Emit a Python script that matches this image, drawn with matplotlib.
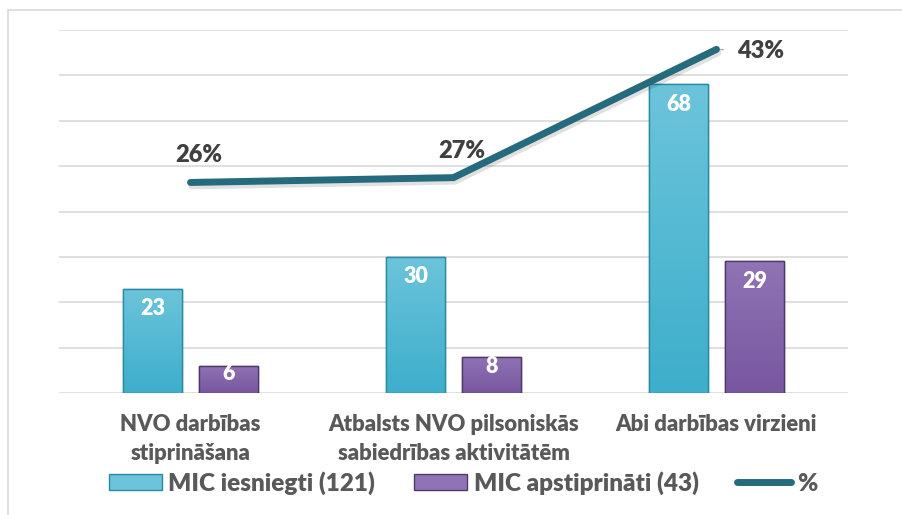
import matplotlib.pyplot as plt
import matplotlib.patheffects as pe
import numpy as np
from matplotlib.colors import LinearSegmentedColormap
from matplotlib.lines import Line2D
from matplotlib.patches import Patch, Rectangle

CATEGORIES = [
    ["NVO darbības", "stiprināšana"],
    ["Atbalsts NVO pilsoniskās", "sabiedrības aktivitātēm"],
    ["Abi darbības virzieni"],
]
SUBMITTED = [23, 30, 68]
APPROVED = [6, 8, 29]
PCT = [0.261, 0.267, 0.426]
PCT_LABELS = ["26%", "27%", "43%"]
LEGEND_LABELS = ["MIC iesniegti (121)", "MIC apstiprināti (43)", "%"]

CYAN_TOP, CYAN_BOT, CYAN_EDGE = "#6CC4DB", "#3DAECB", "#2A8AA3"
PURP_TOP, PURP_BOT, PURP_EDGE = "#9073B5", "#7857A0", "#4E3A6A"
LINE_COLOR = "#266B7D"
GRID_COLOR = "#D9D9D9"
LABEL_COLOR = "#595959"
PCT_COLOR = "#404040"
FONT = "Lato"
WEIGHT = "heavy"

plt.rcParams["font.family"] = FONT


def gradient_bars(ax, bars, top, bottom):
    cmap = LinearSegmentedColormap.from_list("g", [bottom, top])
    grad = np.linspace(0, 1, 256).reshape(-1, 1)
    for bar in bars:
        x, y = bar.get_x(), bar.get_y()
        w, h = bar.get_width(), bar.get_height()
        im = ax.imshow(grad, cmap=cmap, origin="lower", aspect="auto",
                       extent=(x, x + w, y, y + h), zorder=2.1)
        im.set_clip_path(bar)
        ax.add_patch(Rectangle((x, y), w, h, fill=False, edgecolor=bar.get_edgecolor(),
                               linewidth=1.0, zorder=2.2))


fig = plt.figure(figsize=(9.02, 5.15), dpi=100)
fig.patches.append(Rectangle((8 / 902, -0.1), 1.2, 0.1 + 1 - 10 / 515,
                             transform=fig.transFigure, fill=False,
                             edgecolor=GRID_COLOR, linewidth=1.2))

ax = fig.add_axes([59 / 902, 1 - 393 / 515, (848 - 59) / 902, 363 / 515])
x = np.arange(len(SUBMITTED))
width = 0.228
offset = 0.1445

b1 = ax.bar(x - offset, SUBMITTED, width, color=CYAN_BOT, edgecolor=CYAN_EDGE,
            linewidth=1.0, zorder=2)
b2 = ax.bar(x + offset, APPROVED, width, color=PURP_BOT, edgecolor=PURP_EDGE,
            linewidth=1.0, zorder=2)
gradient_bars(ax, b1, CYAN_TOP, CYAN_BOT)
gradient_bars(ax, b2, PURP_TOP, PURP_BOT)

for bars, vals in ((b1, SUBMITTED), (b2, APPROVED)):
    for bar, v in zip(bars, vals):
        h_px = v / 80 * 363
        dy = -min(20, 0.28 * h_px)
        ax.annotate(str(v), (bar.get_x() + bar.get_width() / 2, v),
                    xytext=(0, dy), textcoords="offset pixels",
                    ha="center", va="center", color="white",
                    fontsize=15.5, fontweight=WEIGHT, zorder=3)

ax.set_xlim(-0.5, 2.5)
ax.set_ylim(0, 80)
ax.set_yticks(np.arange(0, 81, 10))
ax.yaxis.grid(True, color=GRID_COLOR, linewidth=1.2)
ax.set_axisbelow(True)
for s in ax.spines.values():
    s.set_visible(False)

xf = ax.get_xaxis_transform()
for i, lines in enumerate(CATEGORIES):
    for j, line in enumerate(lines):
        ax.text(i, (393 - 431 - 29 * j) / 363, line, transform=xf, ha="center",
                va="baseline", color=LABEL_COLOR, fontsize=15.8, fontweight=WEIGHT)

ax2 = ax.twinx()
ax2.set_ylim(0, 0.45)
ax2.set_axis_off()
ax.tick_params(left=False, right=False, bottom=False, labelleft=False, labelbottom=False)
ax2.plot(x, PCT, color=LINE_COLOR, linewidth=5, solid_capstyle="round",
         solid_joinstyle="miter", zorder=4,
         path_effects=[pe.SimpleLineShadow(offset=(1, -2.5), shadow_color="black", alpha=0.12),
                       pe.Normal()])

for i, (p, lab) in enumerate(zip(PCT, PCT_LABELS)):
    if i < len(PCT) - 1:
        ax2.annotate(lab, (i, p), xytext=(8, 27), textcoords="offset pixels",
                     ha="center", va="center", color=PCT_COLOR, fontsize=17, fontweight=WEIGHT)
    else:
        ax2.annotate(lab, (i, p), xytext=(44, -2), textcoords="offset pixels",
                     ha="center", va="center", color=PCT_COLOR, fontsize=17, fontweight=WEIGHT,
                     arrowprops=dict(arrowstyle="-", color="#A6A6A6", lw=1, shrinkA=8, shrinkB=3))

handles = [
    Patch(facecolor=CYAN_TOP, edgecolor=CYAN_EDGE, linewidth=1.0),
    Patch(facecolor=PURP_TOP, edgecolor=PURP_EDGE, linewidth=1.0),
    Line2D([0], [0], color=LINE_COLOR, linewidth=5, solid_capstyle="round"),
]
fig.legend(handles, LEGEND_LABELS, loc="center", bbox_to_anchor=(463 / 902, 1 - 483 / 515),
           ncol=3, frameon=False, borderpad=0, borderaxespad=0,
           prop=dict(family=FONT, weight=WEIGHT, size=17.5),
           labelcolor=LABEL_COLOR, handlelength=2.2, handleheight=0.65,
           handletextpad=0.25, columnspacing=1.6)

fig.savefig("out.png", dpi=100)
